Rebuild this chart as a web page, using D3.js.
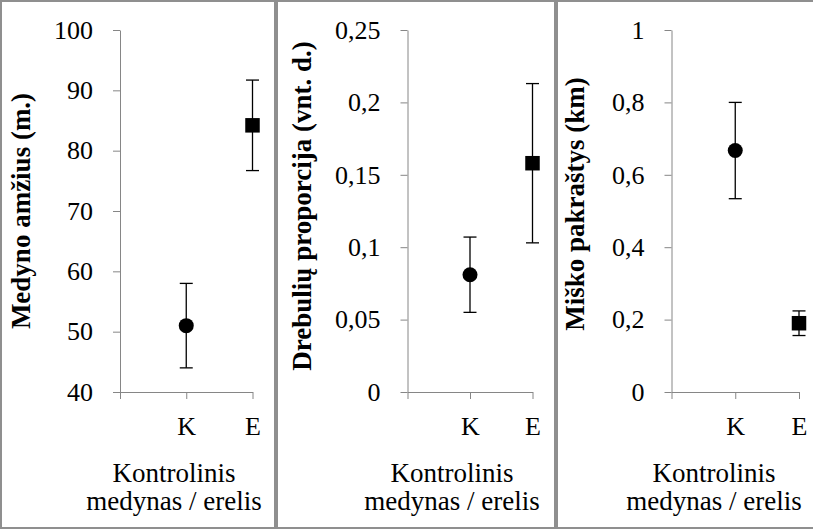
<!DOCTYPE html>
<html>
<head>
<meta charset="utf-8">
<script src="https://cdn.jsdelivr.net/npm/d3@7"></script>
<style>
  html, body { margin: 0; padding: 0; background: #fff; }
  svg { display: block; }
  svg text { font-family: "Liberation Serif", "Times New Roman", "Liberation Sans", serif; fill: #000; }
</style>
</head>
<body>
<svg id="chart" width="813" height="530"></svg>
<script>
// Category slots: a leading blank slot, then control stand (K) and eagle (E)
const categories = ["", "K", "E"];
const groups = ["K", "E"];

// Stand age (years): means and error half-widths for K, E
const ageMean = [51, 84.2];
const ageErr = [7, 7.5];
const ageTicks = [40, 50, 60, 70, 80, 90, 100];

// Aspen proportion (units): means and error half-widths
const aspenMean = [0.081, 0.158];
const aspenErr = [0.026, 0.055];
const aspenTicks = [0, 0.05, 0.1, 0.15, 0.2, 0.25];

// Forest edge (km): means and error half-widths
const edgeMean = [0.667, 0.19];
const edgeErr = [0.133, 0.034];
const edgeTicks = [0, 0.2, 0.4, 0.6, 0.8, 1];

const yTitles = ["Medyno amžius (m.)", "Drebulių proporcija (vnt. d.)", "Miško pakraštys (km)"];
const xTitleLines = ["Kontrolinis", "medynas / erelis"];

const fontStack = '"Liberation Serif", "Times New Roman", "Liberation Sans", serif';

const svg = d3.select("#chart");
const fmt = v => String(v).replace(".", ",");

const panels = [
  { x0: 1, x1: 275, axisX: 120, endX: 252.5, mean: ageMean, err: ageErr, ticks: ageTicks,
    title: yTitles[0], titleX: 30, titleY: 211, xTitleX: 174 },
  { x0: 277, x1: 555, axisX: 407.5, endX: 532.5, mean: aspenMean, err: aspenErr, ticks: aspenTicks,
    title: yTitles[1], titleX: 311, titleY: 206, xTitleX: 452 },
  { x0: 557, x1: 818, axisX: 671.5, endX: 799, mean: edgeMean, err: edgeErr, ticks: edgeTicks,
    title: yTitles[2], titleX: 584, titleY: 204, xTitleX: 714 }
];

const plotTop = 30, plotBottom = 392;
const axisColor = "#868686";

panels.forEach(p => {
  const g = svg.append("g").attr("font-family", fontStack);

  // panel frame
  g.append("rect")
    .attr("x", p.x0).attr("y", 1)
    .attr("width", p.x1 - p.x0).attr("height", 527)
    .attr("fill", "none").attr("stroke", "#8f8f8f").attr("stroke-width", 2);

  const y = d3.scaleLinear()
    .domain([p.ticks[0], p.ticks[p.ticks.length - 1]])
    .range([plotBottom, plotTop]);
  const x = d3.scalePoint().domain(categories).range([p.axisX, p.endX]);

  // y axis
  const ya = g.append("g")
    .attr("transform", `translate(${p.axisX},0)`)
    .call(d3.axisLeft(y).tickValues(p.ticks).tickSize(7).tickSizeOuter(0)
      .tickPadding(20).tickFormat(fmt))
    .attr("font-family", fontStack).attr("font-size", 26);
  ya.select(".domain").attr("stroke", axisColor);
  ya.selectAll(".tick line").attr("stroke", axisColor);
  ya.selectAll(".tick text").attr("fill", "#000");

  // x axis
  const xa = g.append("g")
    .attr("transform", `translate(0,${plotBottom})`)
    .call(d3.axisBottom(x).tickSize(7).tickSizeOuter(0))
    .attr("font-family", fontStack).attr("font-size", 26);
  xa.select(".domain").attr("stroke", axisColor);
  xa.selectAll(".tick line").attr("stroke", axisColor);
  xa.selectAll(".tick text")
    .attr("fill", "#000")
    .attr("dy", null).attr("y", 43);

  // y axis title
  g.append("text")
    .attr("transform", `translate(${p.titleX},${p.titleY}) rotate(-90)`)
    .attr("text-anchor", "middle")
    .attr("font-size", 27).attr("font-weight", "bold")
    .text(p.title);

  // x axis title (two lines)
  g.append("text")
    .attr("text-anchor", "middle")
    .attr("font-size", 27)
    .selectAll("tspan").data(xTitleLines).join("tspan")
    .attr("x", p.xTitleX)
    .attr("y", (d, j) => 482 + j * 28)
    .text(d => d);

  // error bars
  const data = groups.map((c, j) => ({ c, m: p.mean[j], e: p.err[j] }));
  const cap = 6.5;
  const eb = g.append("g").attr("stroke", "#000").attr("stroke-width", 1.3);
  eb.selectAll("line.v").data(data).join("line").attr("class", "v")
    .attr("x1", d => x(d.c)).attr("x2", d => x(d.c))
    .attr("y1", d => y(d.m - d.e)).attr("y2", d => y(d.m + d.e));
  eb.selectAll("line.t").data(data).join("line").attr("class", "t")
    .attr("x1", d => x(d.c) - cap).attr("x2", d => x(d.c) + cap)
    .attr("y1", d => y(d.m + d.e)).attr("y2", d => y(d.m + d.e));
  eb.selectAll("line.b").data(data).join("line").attr("class", "b")
    .attr("x1", d => x(d.c) - cap).attr("x2", d => x(d.c) + cap)
    .attr("y1", d => y(d.m - d.e)).attr("y2", d => y(d.m - d.e));

  // markers: circle for K, square for E
  g.append("circle")
    .attr("cx", x(data[0].c)).attr("cy", y(data[0].m)).attr("r", 7.5)
    .attr("fill", "#000");
  const s = 14.5;
  g.append("rect")
    .attr("x", x(data[1].c) - s / 2).attr("y", y(data[1].m) - s / 2)
    .attr("width", s).attr("height", s)
    .attr("fill", "#000");
});
</script>
</body>
</html>
